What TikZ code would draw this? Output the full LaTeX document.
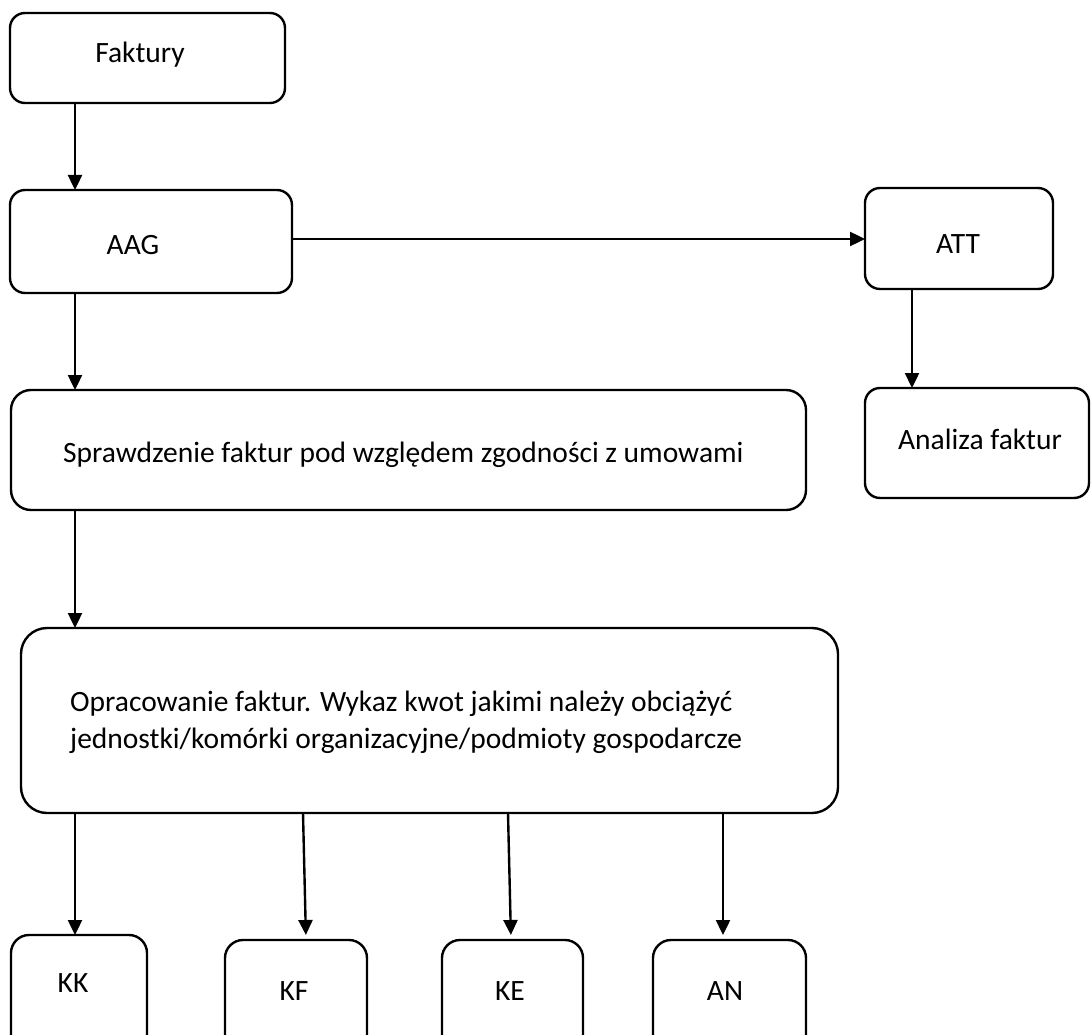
\documentclass[tikz,border=0pt]{standalone}
\usepackage{fontspec}
\setmainfont{Carlito}
\usetikzlibrary{arrows.meta}
\begin{document}
\begin{tikzpicture}[x=1pt,y=-1pt,
  box/.style={draw, line width=2.4pt, inner sep=0pt, outer sep=0pt, rounded corners=15pt, anchor=north west},
  txt/.style={inner sep=0pt, anchor=mid, font=\fontsize{29.5}{37}\selectfont},
  arr/.style={line width=2.4pt, -{Triangle[length=15pt,width=14pt]}}]
\useasboundingbox (0,0) rectangle (1092,1035);
% boxes
\node[box, minimum width=275pt, minimum height=90pt] (fak) at (10,13) {};
\node[box, minimum width=282pt, minimum height=103pt] (aag) at (10,190) {};
\node[box, minimum width=188pt, minimum height=101pt] (att) at (865,188) {};
\node[box, minimum width=224pt, minimum height=110pt] (ana) at (865,388) {};
\node[box, rounded corners=20pt, minimum width=795pt, minimum height=120pt] (spr) at (11,390) {};
\node[box, rounded corners=26pt, minimum width=817pt, minimum height=185pt] (opr) at (21,628) {};
\node[box, rounded corners=18pt, minimum width=136pt, minimum height=130pt] (kk) at (11,935) {};
\node[box, rounded corners=18pt, minimum width=142pt, minimum height=125pt] (kf) at (225,940) {};
\node[box, rounded corners=18pt, minimum width=141pt, minimum height=125pt] (ke) at (442,940) {};
\node[box, rounded corners=18pt, minimum width=153pt, minimum height=125pt] (an) at (653,940) {};
% texts
\node[txt] (tfak) at (140,60) {Faktury};
\node[txt] (taag) at (133,252) {AAG};
\node[txt] (tatt) at (958,251) {ATT};
\node[txt] (tana) at (980,447) {Analiza faktur};
\node[txt, anchor=west] (tspr) at (63,455) {Sprawdzenie faktur pod względem zgodności z umowami};
\node[txt, anchor=west, align=left] (topr) at (70,722) {Opracowanie faktur. Wykaz kwot jakimi należy obciążyć\\jednostki/komórki organizacyjne/podmioty gospodarcze};
\node[txt] (tkk) at (73,990) {KK};
\node[txt] (tkf) at (294,998) {KF};
\node[txt] (tke) at (510,998) {KE};
\node[txt] (tan) at (725,998) {AN};
% column coordinates
\coordinate (c1) at (75,0);
\coordinate (c2) at (912,0);
\coordinate (kft) at (303,0);
\coordinate (kfb) at (306,0);
\coordinate (ket) at (508,0);
\coordinate (keb) at (511,0);
\coordinate (anx) at (723,0);
\coordinate (r1) at (0,239);
% connectors
\draw[arr] (fak.south -| c1) -- (aag.north -| c1);
\draw[arr] (aag.east |- r1) -- (att.west |- r1);
\draw[arr] (att.south -| c2) -- (ana.north -| c2);
\draw[arr] (aag.south -| c1) -- (spr.north -| c1);
\draw[arr] (spr.south -| c1) -- (opr.north -| c1);
\draw[arr] (opr.south -| c1) -- (kk.north -| c1);
\draw[arr, shorten >=5pt] (opr.south -| kft) -- (kf.north -| kfb);
\draw[arr, shorten >=5pt] (opr.south -| ket) -- (ke.north -| keb);
\draw[arr, shorten >=5pt] (opr.south -| anx) -- (an.north -| anx);
\end{tikzpicture}
\end{document}
